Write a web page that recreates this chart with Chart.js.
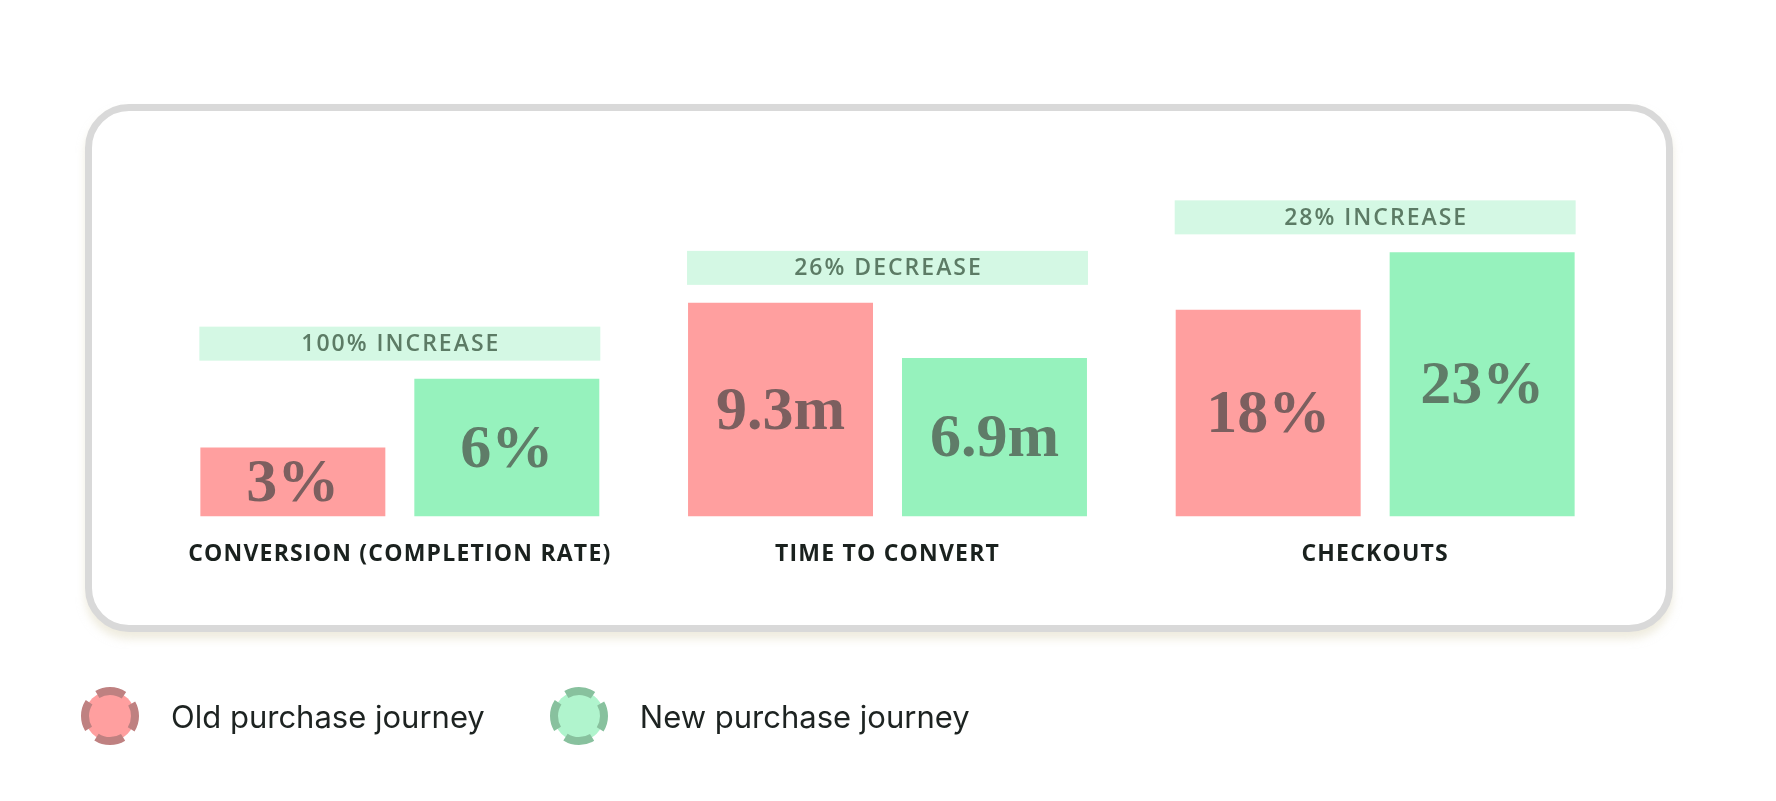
<!DOCTYPE html>
<html>
<head>
<meta charset="utf-8">
<script src="https://cdn.jsdelivr.net/npm/chart.js@4.4.1/dist/chart.umd.min.js"></script>
<style>
  html, body { margin: 0; padding: 0; background: #ffffff; }
  body { width: 1776px; height: 801px; position: relative; overflow: hidden; }
  #card {
    position: absolute; left: 85px; top: 104px; width: 1574px; height: 514px;
    border: 7px solid #d9d9d9; border-radius: 44px; background: #ffffff;
    box-shadow: 0 7px 8px rgba(226, 220, 196, 0.55);
  }
  #myChart { position: absolute; left: 0; top: 0; }
  #legend {
    position: absolute; left: 80px; top: 686px; height: 60px;
    display: flex; align-items: center;
    font-family: Inter, sans-serif; font-size: 31px; color: #1d2321;
  }
  .item { display: flex; align-items: center; margin-right: 64px; }
  .item svg { margin-right: 31px; }
</style>
</head>
<body>
<div id="card"></div>
<canvas id="myChart" width="1776" height="801"></canvas>
<div id="legend"></div>
<script>
// Chart values
const categories = ['CONVERSION (COMPLETION RATE)', 'TIME TO CONVERT', 'CHECKOUTS'];
const seriesNames = ['Old purchase journey', 'New purchase journey'];
const oldValues = [3, 9.3, 18];
const newValues = [6, 6.9, 23];
const oldLabels = ['3%', '9.3m', '18%'];
const newLabels = ['6%', '6.9m', '23%'];
const changeLabels = ['100% INCREASE', '26% DECREASE', '28% INCREASE'];

const oldColor = '#ff9f9f';
const newColor = '#96f2bd';

// One value per dataset so every metric gets its own hidden y scale
function only(values, i) {
  return values.map((v, j) => (j === i ? v : null));
}

const datasets = [];
categories.forEach(function(cat, i) {
  datasets.push({
    label: seriesNames[0], data: only(oldValues, i), stack: 'old',
    yAxisID: 'y' + i, backgroundColor: oldColor
  });
  datasets.push({
    label: seriesNames[1], data: only(newValues, i), stack: 'new',
    yAxisID: 'y' + i, backgroundColor: newColor
  });
});

// Labels inside bars and the change band above each pair
const barLabels = {
  id: 'barLabels',
  beforeDraw(chart) {
    chart.ctx.letterSpacing = '1.2px';
  },
  afterDatasetsDraw(chart) {
    const ctx = chart.ctx;
    ctx.save();
    categories.forEach(function(cat, i) {
      const a = chart.getDatasetMeta(i * 2).data[i];
      const b = chart.getDatasetMeta(i * 2 + 1).data[i];

      ctx.letterSpacing = '0px';
      ctx.font = 'bold 62px "Liberation Serif", serif';
      ctx.textAlign = 'center';
      ctx.textBaseline = 'middle';
      ctx.fillStyle = '#7c5f5f';
      ctx.fillText(oldLabels[i], a.x, (a.y + a.base) / 2 + 3);
      ctx.fillStyle = '#5f7c68';
      ctx.fillText(newLabels[i], b.x, (b.y + b.base) / 2 + 3);

      const left = a.x - a.width / 2 - 1;
      const right = b.x + b.width / 2 + 1;
      const top = Math.min(a.y, b.y) - 18 - 34;
      ctx.fillStyle = '#d4f8e4';
      ctx.fillRect(left, top, right - left, 34);
      ctx.letterSpacing = '2px';
      ctx.font = '600 23px "Open Sans", sans-serif';
      ctx.fillStyle = '#5c7b65';
      ctx.fillText(changeLabels[i], (left + right) / 2 + 1, top + 18);
    });
    ctx.restore();
  }
};

const hiddenAxis = (max) => ({ display: false, min: 0, max: max, stacked: false });

const myChart = new Chart(document.getElementById('myChart'), {
  type: 'bar',
  data: { labels: categories, datasets: datasets },
  options: {
    responsive: false,
    animation: false,
    skipNull: true,
    categoryPercentage: 0.8775,
    barPercentage: 0.8645,
    layout: { padding: { left: 156, right: 157, top: 172, bottom: 209 } },
    plugins: {
      legend: { display: false },
      tooltip: { enabled: false }
    },
    scales: {
      x: {
        grid: { display: false, drawTicks: false },
        border: { display: false },
        ticks: {
          autoSkip: false, maxRotation: 0, padding: 24,
          color: '#1a211e',
          font: { family: "'Open Sans', sans-serif", size: 23, weight: '700' }
        }
      },
      y0: hiddenAxis(15),
      y1: hiddenAxis(15),
      y2: hiddenAxis(30)
    }
  },
  plugins: [barLabels]
});

// HTML legend
const legendEl = document.getElementById('legend');
const legendStyle = [
  { fill: oldColor, ring: '#bf8181' },
  { fill: '#b0f4cd', ring: '#88c19e' }
];
seriesNames.forEach(function(name, k) {
  const item = document.createElement('div');
  item.className = 'item';
  item.innerHTML =
    '<svg width="60" height="60" viewBox="0 0 60 60">' +
    '<circle cx="30" cy="30" r="25" fill="' + legendStyle[k].fill + '" stroke="' + legendStyle[k].ring +
    '" stroke-width="8" stroke-dasharray="28 11.27" stroke-dashoffset="14"/></svg>' +
    '<span>' + name + '</span>';
  legendEl.appendChild(item);
});
</script>
</body>
</html>
